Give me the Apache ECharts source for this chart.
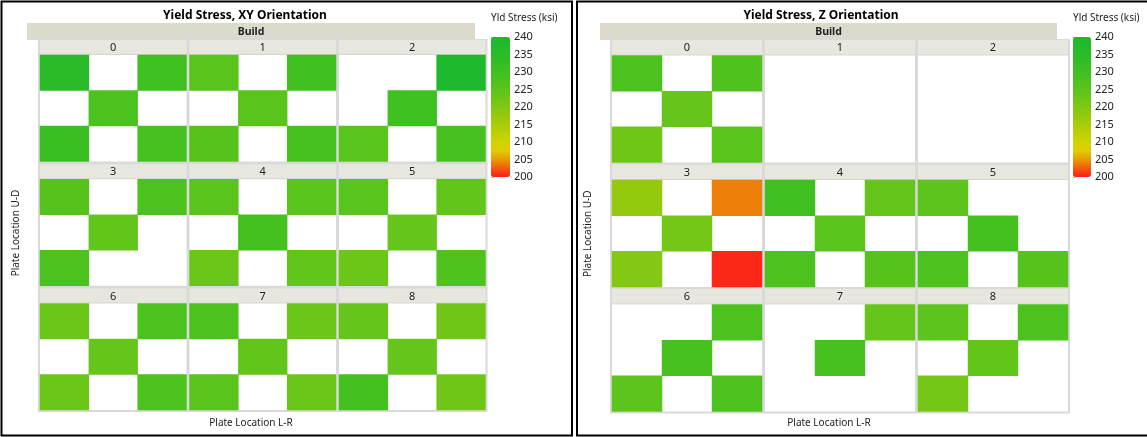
<!DOCTYPE html>
<html>
<head>
<meta charset="utf-8">
<title>Yield Stress by Build and Plate Location</title>
<script src="https://cdn.jsdelivr.net/npm/echarts@6/dist/echarts.min.js"></script>
<style>
  html, body { margin: 0; padding: 0; background: #fff; }
  #chart { width: 1147px; height: 437px; }
</style>
</head>
<body>
<div id="chart"></div>
<script>
// Build plates 0..8, each sampled on a 3x3 checkerboard (rows top->bottom, cols left->right)
const builds = ['0', '1', '2', '3', '4', '5', '6', '7', '8'];
const plateCols = ['L', 'C', 'R'];
const plateRows = ['U', 'M', 'D'];

// Yield stress (ksi), XY orientation
const xyStress = [
  [[235, null, 230.5], [null, 227.5, null], [231.5, null, 228.5]],
  [[225.5, null, 230], [null, 225.5, null], [226, null, 228.5]],
  [[null, null, 239], [null, 230.5, null], [225.5, null, 228.5]],
  [[226, null, 227.5], [null, 224, null], [227.5, null, null]],
  [[225.5, null, 225.5], [null, 229, null], [223, null, 224]],
  [[225.5, null, 224], [null, 223.5, null], [222.5, null, 227]],
  [[223, null, 227.5], [null, 223.5, null], [222.5, null, 227.5]],
  [[227.5, null, 222.5], [null, 224, null], [225.5, null, 223]],
  [[223.5, null, 222], [null, 223.5, null], [229, null, 222]]
];

// Yield stress (ksi), Z orientation
const zStress = [
  [[227.5, null, 227], [null, 223.5, null], [222, null, 225.5]],
  [[null, null, null], [null, null, null], [null, null, null]],
  [[null, null, null], [null, null, null], [null, null, null]],
  [[217.5, null, 204], [null, 221.5, null], [219.5, null, 200.5]],
  [[230, null, 223.5], [null, 225.5, null], [227.5, null, 226]],
  [[225, null, null], [null, 229, null], [227.5, null, 226]],
  [[null, null, 227.5], [null, 228.5, null], [225, null, 227.5]],
  [[null, null, 223.5], [null, 228.5, null], [null, null, null]],
  [[225, null, 227.5], [null, 224, null], [221.5, null, null]]
];

// Colour scale range and legend tick step (ksi)
const stressMin = 200;
const stressMax = 240;
const stressStep = 5;

// Green-yellow-red ramp, evenly spaced from stressMin to stressMax
const RAMP = ['#ff1a1a', '#f45a10', '#e89a04', '#e0cc00', '#d0d400', '#bcd004', '#a8cc0a',
  '#94ca0e', '#80c814', '#6cc618', '#5cc41c', '#4cc21e', '#40c020', '#34be24', '#2abc28',
  '#22ba2c', '#1cb82e'];

const FONT = '"Noto Sans", "Open Sans", sans-serif';

const panels = [
  {
    title: 'Yield Stress, XY Orientation', data: xyStress,
    box: [1.5, 1.5, 570.5, 434], titleX: 245,
    bar: [27, 23, 448, 17],
    fx: 40, fStep: 149.5, fw: 146.5, fy: 40, rStep: 124.3, hh: 15, ch: 106.5,
    lg: { x: 491, y: 37, w: 19, h: 140 },
    udX: 16, lrX: 251
  },
  {
    title: 'Yield Stress, Z Orientation', data: zStress,
    box: [577, 1.5, 600, 434], titleX: 821,
    bar: [600, 23, 457, 17],
    fx: 612, fStep: 153, fw: 150, fy: 40, rStep: 124.5, hh: 15.5, ch: 107,
    lg: { x: 1073, y: 37, w: 18, h: 140 },
    udX: 588, lrX: 829
  }
];

function txt(x, y, text, size, weight, extra, color) {
  return Object.assign({
    type: 'text', x: x, y: y, silent: true, z: 10,
    style: {
      text: text, x: 0, y: 0, fill: color || '#222',
      font: (weight || 'normal') + ' ' + size + 'px ' + FONT,
      align: 'center', verticalAlign: 'middle',
      textAlign: 'center', textVerticalAlign: 'middle'
    }
  }, extra || {});
}
function rect(x, y, w, h, fill, stroke, lw, z) {
  return {
    type: 'rect', silent: true, z: z || 1,
    shape: { x: x, y: y, width: w, height: h },
    style: { fill: fill, stroke: stroke || null, lineWidth: lw || 0 }
  };
}

const grids = [], xAxes = [], yAxes = [], series = [], visualMaps = [], graphics = [];

panels.forEach(function (p) {
  const seriesIdx = [];
  // outer frame, titles, build strip
  graphics.push(rect(p.box[0], p.box[1], p.box[2], p.box[3], 'rgba(0,0,0,0)', '#000', 2, 20));
  graphics.push(txt(p.titleX, 16, p.title, 12, 'bold', null, '#000'));
  graphics.push(rect(p.bar[0], p.bar[1], p.bar[2], p.bar[3], '#dbdacd'));
  graphics.push(txt(p.bar[0] + p.bar[2] / 2, p.bar[1] + p.bar[3] / 2 + 0.5, 'Build', 10.5, 'bold'));
  // grey frame behind facets
  const fw3 = p.fStep * 2 + p.fw;
  const fh3 = p.rStep * 2 + p.hh + p.ch;
  graphics.push(rect(p.fx - 2, p.fy - 1, fw3 + 4, fh3 + 3, '#d9d9d9'));
  // axis titles
  graphics.push(txt(p.lrX, 423, 'Plate Location L-R', 10, 'normal'));
  graphics.push(txt(p.udX, p.fy + fh3 / 2 + 8, 'Plate Location U-D', 10, 'normal', { rotation: Math.PI / 2 }));
  // legend title
  graphics.push({
    type: 'text', x: p.lg.x, y: 18, silent: true, z: 10,
    style: { text: 'Yld Stress (ksi)', x: 0, y: 0, fill: '#222', font: '10px ' + FONT,
      align: 'left', verticalAlign: 'middle', textAlign: 'left', textVerticalAlign: 'middle' }
  });

  builds.forEach(function (b, i) {
    const r = Math.floor(i / 3), c = i % 3;
    const x = p.fx + c * p.fStep;
    const y = p.fy + r * p.rStep;
    graphics.push(rect(x, y, p.fw, p.hh, '#e8e7df'));
    graphics.push(rect(x, y + p.hh - 1, p.fw, 1, '#d6d5cb'));
    graphics.push(txt(x + p.fw / 2, y + p.hh / 2 + 0.5, b, 11, 'normal'));
    graphics.push(rect(x, y + p.hh, p.fw, p.ch, '#ffffff'));

    const gi = grids.length;
    grids.push({ left: x, top: y + p.hh, width: p.fw, height: p.ch, containLabel: false });
    xAxes.push({ type: 'category', gridIndex: gi, data: plateCols, show: false });
    yAxes.push({ type: 'category', gridIndex: gi, data: plateRows, inverse: true, show: false });
    const cells = [];
    p.data[i].forEach(function (row, ri) {
      row.forEach(function (v, ci) {
        if (v !== null) cells.push([ci, ri, v]);
      });
    });
    seriesIdx.push(series.length);
    series.push({
      type: 'heatmap', xAxisIndex: gi, yAxisIndex: gi, data: cells,
      itemStyle: { borderWidth: 0 }, emphasis: { disabled: true }, label: { show: false }
    });
  });

  // colour legend: bar from visualMap, ticks from a value axis alongside
  const li = grids.length;
  grids.push({ left: p.lg.x, top: p.lg.y, width: p.lg.w, height: p.lg.h, containLabel: false });
  xAxes.push({ type: 'value', gridIndex: li, show: false });
  yAxes.push({
    type: 'value', gridIndex: li, min: stressMin, max: stressMax, interval: stressStep,
    position: 'right',
    axisLine: { show: false },
    axisTick: { show: true, length: 3, lineStyle: { color: '#8fcf70' } },
    splitLine: { show: false },
    axisLabel: { color: '#222', fontSize: 11, fontFamily: FONT, margin: 4 }
  });
  visualMaps.push({
    type: 'continuous', min: stressMin, max: stressMax, seriesIndex: seriesIdx,
    left: p.lg.x, top: p.lg.y, itemWidth: p.lg.w, itemHeight: p.lg.h,
    calculable: false, padding: 0, text: null, showLabel: false, hoverLink: false,
    inRange: { color: RAMP }
  });
});

const chart = echarts.init(document.getElementById('chart'), null, { renderer: 'canvas' });
chart.setOption({
  animation: false,
  backgroundColor: '#ffffff',
  textStyle: { fontFamily: FONT },
  grid: grids,
  xAxis: xAxes,
  yAxis: yAxes,
  visualMap: visualMaps,
  series: series,
  graphic: { elements: graphics }
});
</script>
</body>
</html>
